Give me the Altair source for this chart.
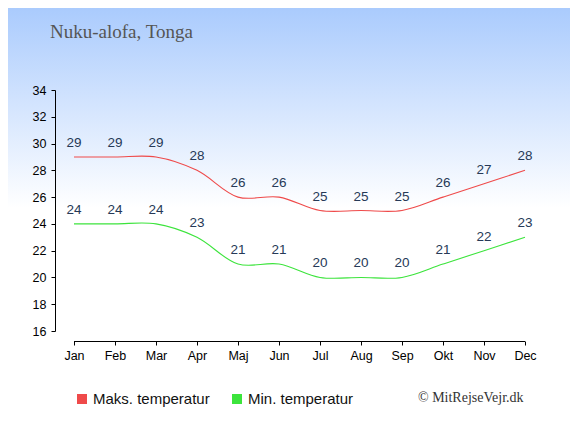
import altair as alt
import pandas as pd

months = ["Jan", "Feb", "Mar", "Apr", "Maj", "Jun", "Jul", "Aug", "Sep", "Okt", "Nov", "Dec"]
max_temp = [29, 29, 29, 28, 26, 26, 25, 25, 25, 26, 27, 28]
min_temp = [24, 24, 24, 23, 21, 21, 20, 20, 20, 21, 22, 23]
series_names = ["Maks. temperatur", "Min. temperatur"]
series_colors = ["#ef4a4a", "#3ce43c"]
y_ticks = list(range(16, 35, 2))
title_text = "Nuku-alofa, Tonga"
credit_text = "\u00a9 MitRejseVejr.dk"

rows = []
for i, m in enumerate(months):
    rows.append({"idx": i, "month": m, "value": max_temp[i], "series": series_names[0]})
    rows.append({"idx": i, "month": m, "value": min_temp[i], "series": series_names[1]})
df = pd.DataFrame(rows)

W, H = 489, 241
PAD_L, PAD_T = 47, 82
SVG_W, SVG_H = 562, 417

label_expr = "[" + ",".join("'%s'" % m for m in months) + "][datum.value]"

x_scale = alt.Scale(domain=[-0.4634, len(months) - 1 + 0.4634], nice=False, zero=False)
y_scale = alt.Scale(domain=[16, 34], nice=False, zero=False)
x_axis = alt.Axis(
    values=list(range(len(months))), labelExpr=label_expr, title=None, grid=False,
    domain=False, offset=10, ticks=True, tickSize=4, tickColor="black", tickWidth=1,
    labelPadding=4, labelOverlap=False, labelFont="Liberation Sans", labelFontSize=12.5,
    labelColor="black", zindex=2,
)
y_axis = alt.Axis(
    values=y_ticks, title=None, grid=False, domainColor="black", tickColor="black",
    ticks=True, tickSize=4, tickWidth=1, labelPadding=5, labelOverlap=False,
    labelFont="Liberation Sans", labelFontSize=12.5, labelColor="black", zindex=2,
)
x_enc = alt.X("idx:Q", scale=x_scale, axis=x_axis)
y_enc = alt.Y("value:Q", scale=y_scale, axis=y_axis)
color_enc = alt.Color("series:N", scale=alt.Scale(domain=series_names, range=series_colors), legend=None)

one = alt.Data(values=[{}])

bg = alt.Chart(one).mark_rect(
    color=alt.LinearGradient(
        gradient="linear",
        stops=[
            alt.GradientStop(color="#aacbfd", offset=0),
            alt.GradientStop(color="#ffffff", offset=0.48),
            alt.GradientStop(color="#ffffff", offset=1),
        ],
        x1=0, x2=0, y1=0, y2=1,
    )
).encode(
    x=alt.value(-PAD_L), x2=alt.value(SVG_W - PAD_L),
    y=alt.value(-PAD_T), y2=alt.value(SVG_H - PAD_T),
)

base = alt.Chart(df)

lines = base.mark_line(interpolate="catmull-rom", strokeWidth=1.1).encode(
    x=x_enc, y=y_enc, color=color_enc, detail="series:N"
)

labels = base.mark_text(
    font="Liberation Sans", fontSize=13.5, color="#263957", baseline="middle", dy=-14
).encode(x=x_enc, y=y_enc, text="value:Q")

xrule = base.mark_rule(color="black", strokeWidth=1).encode(
    x=alt.X("min(idx):Q", scale=x_scale, axis=x_axis), x2="max(idx)", y=alt.value(H + 10.5)
)

title = alt.Chart(one).mark_text(
    font="Liberation Serif", fontSize=19, color="#555555", align="left", baseline="alphabetic"
).encode(x=alt.value(-5), y=alt.value(-52), text=alt.value(title_text))

leg_sq1 = alt.Chart(one).mark_square(size=100, color=series_colors[0], opacity=1).encode(
    x=alt.value(27), y=alt.value(309))
leg_sq2 = alt.Chart(one).mark_square(size=100, color=series_colors[1], opacity=1).encode(
    x=alt.value(182), y=alt.value(309))
leg_t1 = alt.Chart(one).mark_text(
    font="Liberation Sans", fontSize=15, color="#111111", align="left", baseline="middle"
).encode(x=alt.value(38), y=alt.value(309), text=alt.value(series_names[0]))
leg_t2 = alt.Chart(one).mark_text(
    font="Liberation Sans", fontSize=15, color="#111111", align="left", baseline="middle"
).encode(x=alt.value(193), y=alt.value(309), text=alt.value(series_names[1]))
credit = alt.Chart(one).mark_text(
    font="Liberation Serif", fontSize=14, color="#333333", align="left", baseline="middle"
).encode(x=alt.value(363), y=alt.value(308), text=alt.value(credit_text))

chart = alt.layer(
    bg, lines, labels, xrule, title, leg_sq1, leg_sq2, leg_t1, leg_t2, credit
).properties(
    width=W, height=H,
    autosize=alt.AutoSizeParams(type="none"),
    padding={"left": PAD_L, "top": PAD_T, "right": SVG_W - PAD_L - W, "bottom": SVG_H - PAD_T - H},
    background="white",
).configure_view(stroke=None)

chart.save("out.html", embed_options={"renderer": "svg", "actions": False})
